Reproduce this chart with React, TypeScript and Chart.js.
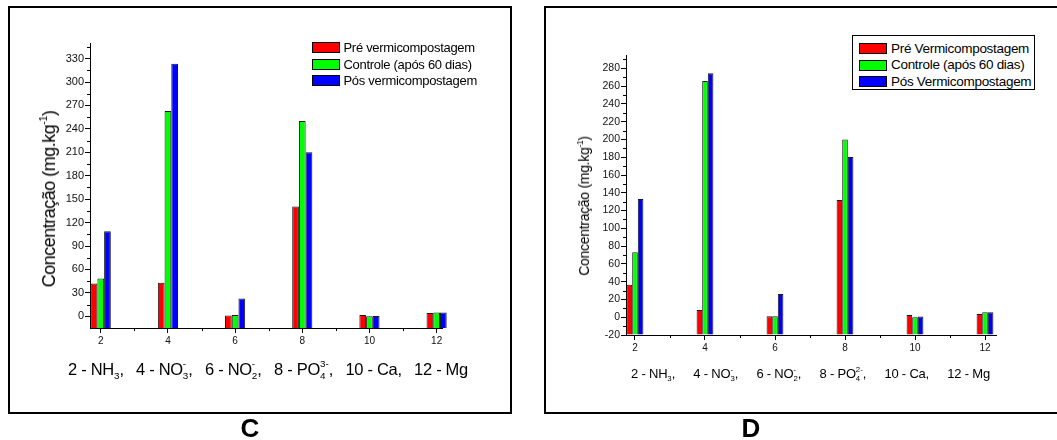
import React, { useEffect, useRef } from 'react';
import { Chart, registerables } from 'chart.js';

Chart.register(...registerables);
Chart.defaults.font.family = '"Liberation Sans", Arial, Helvetica, sans-serif';

// ---------------- data ----------------
const groupPositions = [2, 4, 6, 8, 10, 12];
const seriesColors = ['#ff0000', '#00ff00', '#0000ff'];

// Panel C
const seriesNamesC = ['Pré vermicompostagem', 'Controle (após 60 dias)', 'Pós vermicompostagem'];
const preC = [42, 43, 1, 140.5, 1.7, 4.3];
const ctrlC = [48.5, 263, 1.8, 250, 0, 5];
const posC = [109, 323.5, 22.8, 210, 0.5, 5];

// Panel D
const seriesNamesD = ['Pré Vermicompostagem', 'Controle (após 60 dias)', 'Pós Vermicompostagem'];
const preD = [36.4, 8.2, 1, 132, 2.6, 3.7];
const ctrlD = [73, 265.7, 1, 200, 0, 5.6];
const posD = [133, 274.4, 26.2, 180.3, 0.8, 5.6];

// ticks
const xMajorTicks = [2, 4, 6, 8, 10, 12];
const xMinorTicks = [3, 5, 7, 9, 11];
const yMajorTicksC = [0, 30, 60, 90, 120, 150, 180, 210, 240, 270, 300, 330];
const yMinorTicksC = [15, 45, 75, 105, 135, 165, 195, 225, 255, 285, 315, 345];
const yMajorTicksD = [-20, 0, 20, 40, 60, 80, 100, 120, 140, 160, 180, 200, 220, 240, 260, 280];
const yMinorTicksD = [-10, 10, 30, 50, 70, 90, 110, 130, 150, 170, 190, 210, 230, 250, 270, 290];

// axis titles
const yTitleText = 'Concentração (mg.kg';
const yTitleSup = '-1';
const xTitleItemsC = [
  { text: '2 - NH', sub: '3', sup: '', tail: ',' },
  { text: '4 - NO', sub: '3', sup: '-', tail: ',' },
  { text: '6 - NO', sub: '2', sup: '-', tail: ',' },
  { text: '8 - PO', sub: '4', sup: '3-', tail: ',' },
  { text: '10 - Ca,', sub: '', sup: '', tail: '' },
  { text: '12 - Mg', sub: '', sup: '', tail: '' },
];
const xTitleItemsD = [
  { text: '2 - NH', sub: '3', sup: '', tail: ',' },
  { text: '4 - NO', sub: '3', sup: '-', tail: ',' },
  { text: '6 - NO', sub: '2', sup: '-', tail: ',' },
  { text: '8 - PO', sub: '4', sup: '2-', tail: ',' },
  { text: '10 - Ca,', sub: '', sup: '', tail: '' },
  { text: '12 - Mg', sub: '', sup: '', tail: '' },
];

const FONT = '"Liberation Sans", Arial, Helvetica, sans-serif';

// ---------------- plugin for minor ticks ----------------
const minorTicksPlugin = {
  id: 'minorTicks',
  afterDraw(chart: any, _args: any, opts: any) {
    const { ctx, chartArea, scales } = chart;
    const len = opts.len || 3;
    ctx.save();
    ctx.strokeStyle = '#000';
    ctx.lineWidth = 1;
    ctx.beginPath();
    for (const v of opts.x || []) {
      const px = Math.round(scales.x.getPixelForValue(v)) + 0.5;
      ctx.moveTo(px, chartArea.bottom);
      ctx.lineTo(px, chartArea.bottom + len);
    }
    for (const v of opts.y || []) {
      const py = Math.round(scales.y.getPixelForValue(v)) + 0.5;
      ctx.moveTo(chartArea.left - len, py);
      ctx.lineTo(chartArea.left, py);
    }
    ctx.stroke();
    ctx.restore();
  },
};

type PanelProps = {
  left: number;
  width: number;
  padding: { left: number; right: number; top: number; bottom: number };
  yWidth: number;
  xHeight: number;
  xMin: number;
  xMax: number;
  yMin: number;
  yMax: number;
  yMajor: number[];
  yMinor: number[];
  series: number[][];
  names: string[];
  catPct: number;
  yTickSize: number;
  xTickSize: number;
};

function BarCanvas(p: PanelProps) {
  const ref = useRef<HTMLCanvasElement>(null);
  useEffect(() => {
    const chart = new Chart(ref.current as HTMLCanvasElement, {
      type: 'bar',
      data: {
        datasets: p.series.map((vals, i) => ({
          label: p.names[i],
          data: groupPositions.map((x, j) => ({ x, y: vals[j] })),
          backgroundColor: seriesColors[i],
          borderColor: '#1a1a1a',
          borderWidth: 1,
          base: p.yMin,
          categoryPercentage: p.catPct,
          barPercentage: 1,
          clip: false,
        })) as any,
      },
      options: {
        responsive: false,
        animation: false,
        layout: { padding: p.padding },
        plugins: {
          legend: { display: false },
          tooltip: { enabled: false },
          minorTicks: { x: xMinorTicks, y: p.yMinor, len: 3 },
        } as any,
        scales: {
          x: {
            type: 'linear',
            min: p.xMin,
            max: p.xMax,
            offset: false,
            grid: {
              offset: false,
              display: true,
              drawOnChartArea: false,
              drawTicks: true,
              tickLength: 5,
              tickColor: '#000',
              tickWidth: 1,
            },
            border: { display: true, color: '#000', width: 1 },
            ticks: {
              font: { size: p.xTickSize },
              color: '#111',
              padding: 2,
              maxRotation: 0,
              autoSkip: false,
              callback: (v: any) => String(v),
            },
            afterBuildTicks: (s: any) => {
              s.ticks = xMajorTicks.map((v) => ({ value: v }));
            },
            afterFit: (s: any) => {
              s.height = p.xHeight;
            },
          },
          y: {
            type: 'linear',
            min: p.yMin,
            max: p.yMax,
            grid: {
              display: true,
              drawOnChartArea: false,
              drawTicks: true,
              tickLength: 5,
              tickColor: '#000',
              tickWidth: 1,
            },
            border: { display: true, color: '#000', width: 1 },
            ticks: {
              font: { size: p.yTickSize },
              color: '#111',
              padding: 1,
              autoSkip: false,
              callback: (v: any) => String(v),
            },
            afterBuildTicks: (s: any) => {
              s.ticks = p.yMajor.map((v) => ({ value: v }));
            },
            afterFit: (s: any) => {
              s.width = p.yWidth;
            },
          },
        } as any,
      },
      plugins: [minorTicksPlugin],
    });
    return () => chart.destroy();
  }, []);
  return (
    <canvas
      ref={ref}
      width={p.width}
      height={440}
      style={{ position: 'absolute', left: p.left, top: 0, width: p.width, height: 440, display: 'block' }}
    />
  );
}

const charW = (s: string) => Array.from(s).reduce((a, c) => a + (c === '-' ? 0.333 : 0.556), 0);

function SubSup({ sub, sup, size }: { sub: string; sup: string; size: number }) {
  const small = size * 0.6;
  const w = Math.max(charW(sub), charW(sup)) * small;
  return (
    <span style={{ position: 'relative', display: 'inline-block', width: w, height: 0 }}>
      {sup ? (
        <span style={{ position: 'absolute', left: 0, bottom: size * 0.36, fontSize: small, lineHeight: 1, letterSpacing: 0 }}>
          {sup}
        </span>
      ) : null}
      {sub ? (
        <span style={{ position: 'absolute', left: 0, bottom: -size * 0.36, fontSize: small, lineHeight: 1, letterSpacing: 0 }}>
          {sub}
        </span>
      ) : null}
    </span>
  );
}

function XTitle({ items, left, width, baseline, size, ls }: any) {
  return (
    <div
      style={{
        position: 'absolute',
        left,
        top: baseline - 0.846 * size,
        width,
        display: 'flex',
        justifyContent: 'space-between',
        fontSize: size,
        lineHeight: 1,
        letterSpacing: ls,
        whiteSpace: 'nowrap',
      }}
    >
      {items.map((it: any, i: number) => (
        <span key={i}>
          {it.text}
          {it.sub || it.sup ? <SubSup sub={it.sub} sup={it.sup} size={size} /> : null}
          {it.tail}
        </span>
      ))}
    </div>
  );
}

function YTitle({ cx, cy, size, ls }: any) {
  return (
    <div
      style={{
        position: 'absolute',
        left: cx,
        top: cy,
        transform: 'translate(-50%, -50%) rotate(-90deg)',
        whiteSpace: 'nowrap',
        fontSize: size,
        lineHeight: 1,
        letterSpacing: ls,
      }}
    >
      {yTitleText}
      <span style={{ fontSize: size * 0.6, position: 'relative', top: -size * 0.42, lineHeight: 0 }}>{yTitleSup}</span>)
    </div>
  );
}

function Legend({ names, left, top, rowH, size, ls, swW, swH, boxed, boxW, boxH, padL, padT }: any) {
  return (
    <div
      style={{
        position: 'absolute',
        left,
        top,
        width: boxed ? boxW : undefined,
        height: boxed ? boxH : undefined,
        border: boxed ? '1px solid #000' : 'none',
        boxSizing: 'border-box',
        paddingLeft: padL,
        paddingTop: padT,
        background: boxed ? '#fff' : 'transparent',
      }}
    >
      {names.map((n: string, i: number) => (
        <div key={i} style={{ display: 'flex', alignItems: 'center', height: rowH, whiteSpace: 'nowrap' }}>
          <div
            style={{
              width: swW,
              height: swH,
              background: seriesColors[i],
              border: '1px solid #000',
              boxSizing: 'border-box',
              marginRight: 4,
              flex: 'none',
            }}
          />
          <span style={{ fontSize: size, letterSpacing: ls, lineHeight: 1 }}>{n}</span>
        </div>
      ))}
    </div>
  );
}

export default function App() {
  return (
    <div
      style={{
        position: 'fixed',
        left: 0,
        top: 0,
        width: 1057,
        height: 440,
        overflow: 'hidden',
        background: '#fff',
        fontFamily: FONT,
        color: '#000',
      }}
    >
      {/* panel frames */}
      <div style={{ position: 'absolute', left: 8, top: 6, width: 504, height: 408, border: '2px solid #000', boxSizing: 'border-box' }} />
      <div style={{ position: 'absolute', left: 544, top: 6, width: 600, height: 408, border: '2px solid #000', boxSizing: 'border-box' }} />

      {/* Panel C */}
      <BarCanvas
        left={0}
        width={530}
        padding={{ left: 40, right: 88, top: 43, bottom: 82 }}
        yWidth={50}
        xHeight={30}
        xMin={1.68}
        xMax={12.16}
        yMin={-15}
        yMax={350}
        yMajor={yMajorTicksC}
        yMinor={yMinorTicksC}
        series={[preC, ctrlC, posC]}
        names={seriesNamesC}
        catPct={0.3}
        yTickSize={11}
        xTickSize={10}
      />
      <YTitle cx={48.5} cy={198.5} size={18} ls={-0.5} />
      <XTitle items={xTitleItemsC} left={68} width={400} baseline={375} size={16.5} ls={-0.3} />
      <Legend names={seriesNamesC} left={311.5} top={39.6} rowH={16.4} size={13} ls={-0.3} swW={28} swH={11} boxed={false} padL={0} padT={0} />
      <div style={{ position: 'absolute', left: 250, top: 428, transform: 'translate(-50%, -50%)', fontSize: 26, fontWeight: 'bold', lineHeight: 1 }}>C</div>

      {/* Panel D */}
      <BarCanvas
        left={530}
        width={527}
        padding={{ left: 40, right: 61, top: 55, bottom: 75 }}
        yWidth={56}
        xHeight={30}
        xMin={1.743}
        xMax={12.314}
        yMin={-20}
        yMax={295}
        yMajor={yMajorTicksD}
        yMinor={yMinorTicksD}
        series={[preD, ctrlD, posD]}
        names={seriesNamesD}
        catPct={0.24}
        yTickSize={10.5}
        xTickSize={10}
      />
      <YTitle cx={583.5} cy={205.5} size={14} ls={-0.3} />
      <XTitle items={xTitleItemsD} left={631} width={359} baseline={378.3} size={13} ls={-0.2} />
      <Legend names={seriesNamesD} left={852} top={35} rowH={16.7} size={13.5} ls={-0.3} swW={28} swH={11} boxed={true} boxW={183} boxH={55} padL={6} padT={4} />
      <div style={{ position: 'absolute', left: 751, top: 428, transform: 'translate(-50%, -50%)', fontSize: 26, fontWeight: 'bold', lineHeight: 1 }}>D</div>
    </div>
  );
}
